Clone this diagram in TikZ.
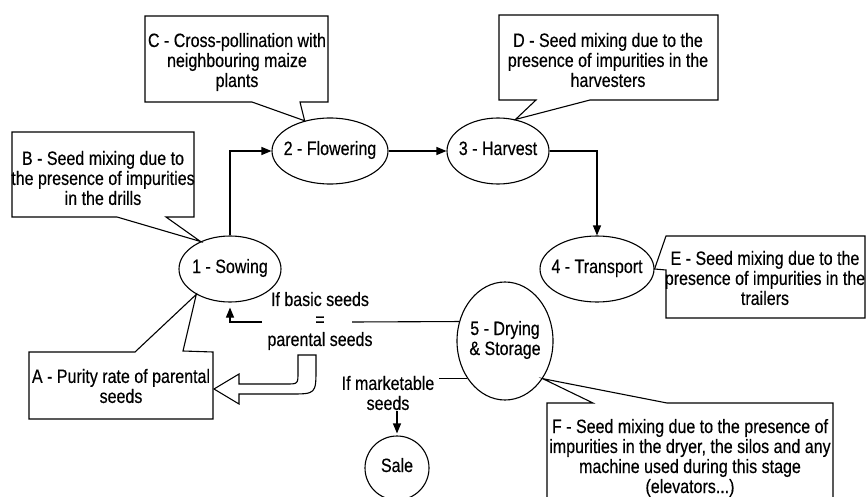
\documentclass[tikz,border=0pt]{standalone}
\usepackage{fontspec}
\setmainfont{Liberation Sans}[FakeStretch=0.83,FakeBold=0.4]
\usetikzlibrary{shapes.geometric,arrows.meta,calc}
\newcommand{\ctext}[1]{\makebox[0pt][c]{\begin{tabular}{@{}c@{}}#1\end{tabular}}}
\begin{document}
\begin{tikzpicture}[x=1pt,y=-1pt, line width=1.1pt, line join=miter,
  every node/.style={font=\fontsize{19.3}{20}\selectfont, inner sep=0pt},
  stage/.style={ellipse, draw},
  note/.style={align=center},
  arr/.style={-{Triangle[length=10pt,width=8pt]}}
]
\useasboundingbox (0,0) rectangle (866,497);

% stages
\node[stage, minimum width=102, minimum height=66] (sow) at (230,269) {\ctext{1 - Sowing}};
\node[stage, minimum width=116, minimum height=66] (flo) at (330,151) {\ctext{2 - Flowering}};
\node[stage, minimum width=102, minimum height=66] (har) at (498,151) {\ctext{3 - Harvest}};
\node[stage, minimum width=114, minimum height=66] (tra) at (597,269) {\ctext{4 - Transport}};
\node[stage, minimum width=96, minimum height=118] (dry) at (505,341) {\ctext{5 - Drying\\\& Storage}};
\node[circle, draw, minimum size=64] (sale) at (397,468) {\ctext{Sale}};

% callout outlines
\draw (29,352) -- (135,352) -- (sow.217) -- (183,351) -- (213,352) -- (213,419) -- (29,419) -- cycle;
\draw (12,132) -- (194,132) -- (194,217) -- (166,217) -- (sow.137) -- (117,217) -- (12,217) -- cycle;
\draw (145,16) -- (328,16) -- (328,102) -- (300,102) -- (flo.130) -- (252,102) -- (145,102) -- cycle;
\draw (499,15) -- (718,15) -- (718,100) -- (590,100) -- (har.61) -- (536,100) -- (499,100) -- cycle;
\draw (666,236) -- (865,236) -- (865,318) -- (666,318) -- (666,270) -- (tra.east) -- cycle;
\draw (547,403) -- (593,403) -- (dry.-45) -- (667,403) -- (833,403) -- (833,520) -- (547,520) -- cycle;

% callout texts
\node[note] (boxA) at (121,386) {A - Purity rate of parental\\seeds};
\node[note] (boxB) at (103,178) {B - Seed mixing due to\\the presence of impurities\\in the drills};
\node[note] (boxC) at (237,62) {C - Cross-pollination with\\neighbouring maize\\plants};
\node[note] (boxD) at (608,60) {D - Seed mixing due to the\\presence of impurities in the\\harvesters};
\node[note] (boxE) at (765,278) {E - Seed mixing due to the\\presence of impurities in the\\trailers};
\node[note] (boxF) at (690,458) {F - Seed mixing due to the presence of\\impurities in the dryer, the silos and any\\machine used during this stage\\(elevators...)};

% conditions
\node[note] (cond) at (320,321) {If basic seeds\\=\\parental seeds};
\node[note, inner xsep=4pt] (mk) at (388,393) {If marketable\\seeds};
\coordinate (gapR) at (352,322);
\coordinate (gapL) at (262,322);

% flow connectors
\draw[arr] (sow.north) |- (flo.west);
\draw[arr] (flo.east) -- (har.west);
\draw[arr] (har.east) -| (tra.north);
\draw (dry.157) -- (gapR);
\draw[arr, shorten >=5pt] (gapL) -| (sow.south);
\draw (dry.225) -- (dry.225 -| mk.east);
\draw[arr, shorten >=2pt] (sale.north |- mk.south) -- (sale.north);

% hollow arrow to A
\draw (298,355) -- (298,372) .. controls (298,384) .. (286,384) -- (239,384) -- (239,374)
  -- (214,389) -- (239,404) -- (239,394) -- (290,394) .. controls (316,394) .. (316,368)
  -- (316,355) -- cycle;
\end{tikzpicture}
\end{document}
